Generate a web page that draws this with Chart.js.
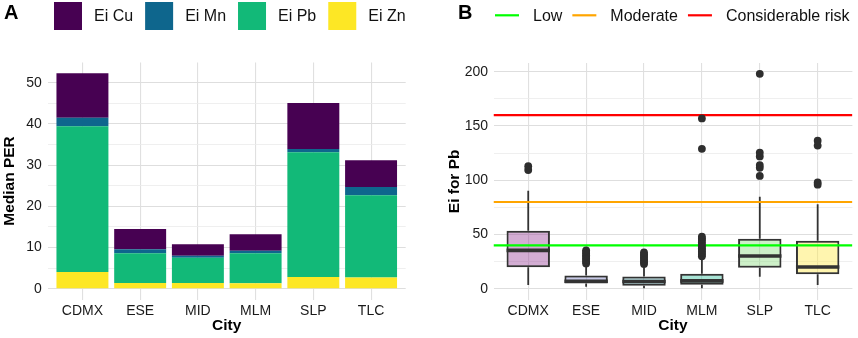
<!DOCTYPE html>
<html><head><meta charset="utf-8">
<script src="https://cdn.jsdelivr.net/npm/chart.js@4/dist/chart.umd.min.js"></script>
<style>
html,body{margin:0;padding:0;background:#fff;}
#wrap{position:relative;width:858px;height:338px;overflow:hidden;}
.pane{position:absolute;top:0;width:429px;height:338px;}
canvas{display:block;}
</style></head><body>
<div id="wrap">
<div class="pane" style="left:0"><canvas id="ca" width="429" height="338"></canvas></div>
<div class="pane" style="left:429px"><canvas id="cb" width="429" height="338"></canvas></div>
</div>
<script>
// ---------- data ----------
const cities = ["CDMX", "ESE", "MID", "MLM", "SLP", "TLC"];

// Panel A: median PER stacked by element
const eiZn = [4.05, 1.4, 1.4, 1.3, 2.85, 2.7];
const eiPb = [35.35, 7.2, 6.1, 7.3, 30.25, 20.0];
const eiMn = [2.1, 1.0, 0.5, 0.6, 0.8, 2.0];
const eiCu = [10.8, 4.9, 2.8, 4.0, 11.2, 6.5];
const yTicksA = [0, 10, 20, 30, 40, 50];

// Panel B: Ei for Pb box plots
const pbLow = [3.6, 2.0, 0.5, 0.5, 11.2, 3.6];
const pbQ1 = [19.9, 5.0, 3.0, 3.8, 19.5, 13.4];
const pbMed = [35.5, 7.0, 6.8, 7.4, 30.3, 20.2];
const pbQ3 = [53.6, 12.3, 11.4, 14.0, 46.2, 44.4];
const pbHigh = [90.4, 21.5, 20.5, 27.0, 84.9, 77.9];
const pbOutCDMX = [109.5, 113];
const pbOutESE = [23.5, 25, 26.5, 28, 29.5, 31, 32.5, 34, 35.5];
const pbOutMID = [23, 24.5, 26, 27.5, 29, 30.5, 32, 33.5];
const pbOutMLM = [30, 31.5, 33, 34.5, 36, 37.5, 39, 41, 43, 45, 46.5, 48, 129, 157];
const pbOutSLP = [104, 111.5, 114, 122, 125.5, 198];
const pbOutTLC = [96, 98, 132, 136.5];
const yTicksB = [0, 50, 100, 150, 200];
const riskLevels = [40, 80, 160];
const riskLabels = ["Low", "Moderate", "Considerable risk"];

// ---------- styles ----------
const FONT = '"Liberation Sans", Arial, Helvetica, sans-serif';
const colA = {Cu: '#470152', Mn: '#0E668D', Pb: '#12B978', Zn: '#FDE725'};
const boxFill = ['rgba(150,60,150,0.42)', 'rgba(115,120,195,0.4)', 'rgba(70,167,177,0.4)',
                 'rgba(37,187,150,0.4)', 'rgba(130,217,117,0.4)', 'rgba(255,232,77,0.45)'];
const riskColors = ['#00FF00', '#FFA500', '#FF0000'];
const TXT = '#1a1a1a';

Chart.defaults.font.family = FONT;
Chart.defaults.color = TXT;
Chart.defaults.animation = false;

const panelLegend = {
  id: 'panelLegend',
  afterDraw(chart, args, o) {
    const ctx = chart.ctx;
    ctx.save();
    ctx.textBaseline = 'middle';
    ctx.textAlign = 'left';
    ctx.fillStyle = '#000';
    ctx.font = 'bold 20px ' + FONT;
    ctx.fillText(o.tag, o.tagX, o.tagY);
    ctx.font = '16px ' + FONT;
    let x = o.startX;
    o.items.forEach(it => {
      if (o.kind === 'box') {
        ctx.fillStyle = it.color;
        ctx.fillRect(x, o.cy - 14, 28, 28);
        x += 28 + 12;
      } else {
        ctx.strokeStyle = it.color;
        ctx.lineWidth = 2.2;
        ctx.beginPath(); ctx.moveTo(x, o.cy - 0.7); ctx.lineTo(x + 24, o.cy - 0.7); ctx.stroke();
        x += 24 + 14;
      }
      ctx.fillStyle = '#111';
      ctx.fillText(it.text, x, o.cy + 0.5);
      x += ctx.measureText(it.text).width + o.gap;
    });
    ctx.restore();
  }
};

function gridColor(ticksMajor) {
  return c => (c.tick && ticksMajor.includes(c.tick.value)) ? '#dedede' : '#ebebeb';
}
function gridWidth(ticksMajor) {
  return c => (c.tick && ticksMajor.includes(c.tick.value)) ? 1.1 : 0.8;
}

function xScale(height) {
  return {
    type: 'linear', min: -0.6, max: 5.6, offset: false, stacked: true,
    afterFit: s => { s.height = height; },
    ticks: { stepSize: 1, includeBounds: false, autoSkip: false, maxRotation: 0, padding: 3,
      font: { size: 14, lineHeight: 1.2 }, color: TXT,
      callback: v => (Number.isInteger(v) && cities[v] !== undefined) ? cities[v] : '' },
    grid: { color: '#e0e0e0', lineWidth: 1.1, drawTicks: false, offset: false },
    border: { display: false },
    title: { display: true, text: 'City', color: '#000',
      font: { size: 15.5, weight: 'bold', lineHeight: 1.2 }, padding: { top: 0, bottom: 3.2 } }
  };
}

// ---------- Panel A ----------
new Chart(document.getElementById('ca'), {
  type: 'bar',
  data: {
    datasets: [
      { label: 'Ei Zn', data: cities.map((c, i) => ({x: i, y: eiZn[i]})), backgroundColor: colA.Zn },
      { label: 'Ei Pb', data: cities.map((c, i) => ({x: i, y: eiPb[i]})), backgroundColor: colA.Pb },
      { label: 'Ei Mn', data: cities.map((c, i) => ({x: i, y: eiMn[i]})), backgroundColor: colA.Mn },
      { label: 'Ei Cu', data: cities.map((c, i) => ({x: i, y: eiCu[i]})), backgroundColor: colA.Cu }
    ].map(d => Object.assign(d, { barPercentage: 0.9, categoryPercentage: 1, borderWidth: 0 }))
  },
  options: {
    responsive: false,
    devicePixelRatio: 1,
    layout: { padding: { top: 62.5, right: 23.3, bottom: 0, left: 0 } },
    plugins: {
      legend: { display: false },
      tooltip: { enabled: false },
      panelLegend: {
        tag: 'A', tagX: 4, tagY: 13.5, kind: 'box', startX: 54, cy: 16, gap: 12,
        items: [
          {text: 'Ei Cu', color: colA.Cu}, {text: 'Ei Mn', color: colA.Mn},
          {text: 'Ei Pb', color: colA.Pb}, {text: 'Ei Zn', color: colA.Zn}
        ]
      }
    },
    scales: {
      x: xScale(38.5),
      y: {
        type: 'linear', min: -2.62, max: 54.9, stacked: true,
        afterFit: s => { s.width = 47.8; },
        ticks: { stepSize: 5, includeBounds: false, padding: 6, font: { size: 14 }, color: TXT,
          callback: v => yTicksA.includes(v) ? String(v) : '' },
        grid: { color: gridColor(yTicksA), lineWidth: gridWidth(yTicksA), drawTicks: false },
        border: { display: false },
        title: { display: true, text: 'Median PER', color: '#000',
          font: { size: 15.5, weight: 'bold', lineHeight: 1.2 }, padding: { top: 0, bottom: 0 } }
      }
    }
  },
  plugins: [panelLegend]
});

// ---------- Panel B ----------
const outlierSets = [pbOutCDMX, pbOutESE, pbOutMID, pbOutMLM, pbOutSLP, pbOutTLC];
const outlierPoints = [];
outlierSets.forEach((arr, i) => arr.forEach(v => outlierPoints.push({x: i, y: v})));

const boxWhiskers = {
  id: 'boxWhiskers',
  afterDatasetDraw(chart, args) {
    if (args.index !== 0) return;
    const ctx = chart.ctx, xs = chart.scales.x, ys = chart.scales.y;
    const meta = args.meta;
    ctx.save();
    ctx.strokeStyle = '#333333';
    ctx.lineCap = 'butt';
    cities.forEach((c, i) => {
      const x = xs.getPixelForValue(i);
      const half = meta.data[i].width / 2;
      ctx.lineWidth = 1.8;
      ctx.beginPath();
      ctx.moveTo(x, ys.getPixelForValue(pbQ3[i])); ctx.lineTo(x, ys.getPixelForValue(pbHigh[i]));
      ctx.moveTo(x, ys.getPixelForValue(pbQ1[i])); ctx.lineTo(x, ys.getPixelForValue(pbLow[i]));
      ctx.stroke();
      ctx.lineWidth = 3.6;
      ctx.beginPath();
      const ym = ys.getPixelForValue(pbMed[i]);
      ctx.moveTo(x - half, ym); ctx.lineTo(x + half, ym);
      ctx.stroke();
    });
    ctx.restore();
  }
};

new Chart(document.getElementById('cb'), {
  type: 'bar',
  data: {
    datasets: [
      { type: 'bar', label: 'box', order: 3,
        data: cities.map((c, i) => ({x: i, y: [pbQ1[i], pbQ3[i]]})),
        backgroundColor: boxFill, borderColor: '#333333', borderWidth: 2, borderSkipped: false,
        barPercentage: 0.75, categoryPercentage: 1 },
      ...riskLevels.map((lv, k) => ({
        type: 'line', label: riskLabels[k], order: 2,
        data: [{x: -0.6, y: lv}, {x: 5.6, y: lv}],
        borderColor: riskColors[k], borderWidth: 2.2, pointRadius: 0, fill: false
      })),
      { type: 'scatter', label: 'outliers', order: 1, data: outlierPoints,
        backgroundColor: '#2e2e2e', borderColor: '#2e2e2e', borderWidth: 0, pointRadius: 3.9 }
    ]
  },
  options: {
    responsive: false,
    devicePixelRatio: 1,
    layout: { padding: { top: 63, right: 5.6, bottom: 0, left: 0 } },
    plugins: {
      legend: { display: false },
      tooltip: { enabled: false },
      panelLegend: {
        tag: 'B', tagX: 29, tagY: 13.5, kind: 'line', startX: 66, cy: 16, gap: 10,
        items: riskLabels.map((t, k) => ({text: t, color: riskColors[k]}))
      }
    },
    scales: {
      x: Object.assign(xScale(38.3), { stacked: false }),
      y: {
        type: 'linear', min: -9.94, max: 208.0,
        afterFit: s => { s.width = 64.5; },
        ticks: { stepSize: 25, includeBounds: false, padding: 5.5, font: { size: 14 }, color: TXT,
          callback: v => yTicksB.includes(v) ? String(v) : '' },
        grid: { color: gridColor(yTicksB), lineWidth: gridWidth(yTicksB), drawTicks: false },
        border: { display: false },
        title: { display: true, text: 'Ei for Pb', color: '#000',
          font: { size: 15.5, weight: 'bold', lineHeight: 1.2 }, padding: { top: 16.3, bottom: 0 } }
      }
    }
  },
  plugins: [boxWhiskers, panelLegend]
});
</script>
</body></html>
